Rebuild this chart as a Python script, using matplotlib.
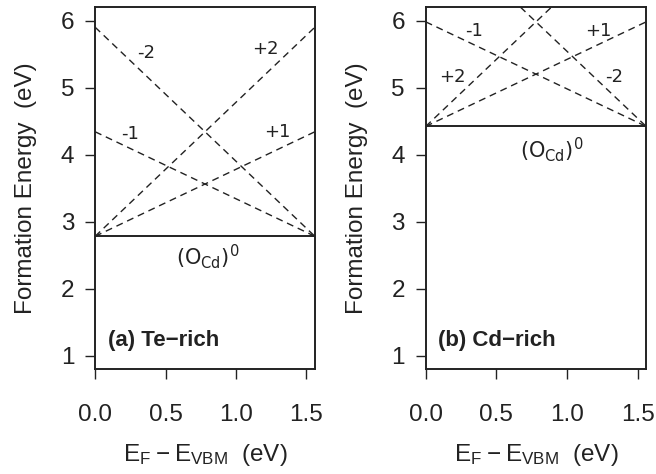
import numpy as np
import matplotlib.pyplot as plt

# fermi level range (band gap)
ef = np.array([0.0, 1.56])

charges = [2, 1, -1, -2]
charge_labels = ['+2', '+1', '-1', '-2']

# panel (a) Te-rich
e0_a = 2.78
icpt_a = [2.78, 2.78, 4.34, 5.90]
lab_pos_a = [(1.21, 5.57), (1.29, 4.33), (0.25, 4.30), (0.36, 5.52)]
neutral_pos_a = (0.80, 2.47)

# panel (b) Cd-rich
e0_b = 4.42
icpt_b = [4.42, 4.42, 5.98, 7.54]
lab_pos_b = [(0.19, 5.15), (1.22, 5.84), (0.34, 5.84), (1.33, 5.16)]
neutral_pos_b = (0.89, 4.07)

titles = ['(a) Te\u2212rich', '(b) Cd\u2212rich']

plt.rcParams['font.family'] = ['Liberation Sans', 'DejaVu Sans']

fig = plt.figure(figsize=(6.56, 4.74), dpi=100)
ax1 = fig.add_axes([0.145, 0.2215, 0.335, 0.7635])
ax2 = fig.add_axes([0.649, 0.2215, 0.336, 0.7635])

panels = [(ax1, e0_a, icpt_a, lab_pos_a, neutral_pos_a),
          (ax2, e0_b, icpt_b, lab_pos_b, neutral_pos_b)]

for k, (ax, e0, icpt, lpos, npos) in enumerate(panels):
    for q, b, lab, (tx, ty) in zip(charges, icpt, charge_labels, lpos):
        ax.plot(ef, b + q * ef, color='#222222', lw=1.0, ls=(0, (5, 3.5)))
        ax.text(tx, ty, lab, fontsize=13, family='DejaVu Sans',
                ha='center', va='center', color='#222222')
    ax.plot(ef, [e0, e0], color='#222222', lw=1.4)
    ax.text(npos[0], npos[1], r'$\mathregular{(O_{Cd})^0}$', fontsize=15,
            family='DejaVu Sans', ha='center', va='center', color='#222222')
    ax.text(0.09, 1.22, titles[k], fontsize=16, fontweight='bold',
            ha='left', va='center', color='#222222')

    ax.set_xlim(0, 1.56)
    ax.set_ylim(0.8, 6.2)
    ax.set_xticks([0.0, 0.5, 1.0, 1.5])
    ax.set_xticklabels(['0.0', '0.5', '1.0', '1.5'])
    ax.set_yticks([1, 2, 3, 4, 5, 6])
    ax.tick_params(axis='both', labelsize=17.5, length=7, width=1.0,
                   color='#222222', labelcolor='#222222')
    ax.tick_params(axis='x', pad=18)
    ax.tick_params(axis='y', pad=8)
    for s in ax.spines.values():
        s.set_linewidth(1.4)
        s.set_color('#222222')
    ax.set_ylabel('Formation Energy  (eV)', fontsize=17.5, color='#222222',
                  labelpad=17)
    ax.set_xlabel(r'$\mathregular{E_F - E_{VBM}}$  (eV)', fontsize=17.5,
                  color='#222222', labelpad=12)

fig.savefig('out.png', dpi=100)
